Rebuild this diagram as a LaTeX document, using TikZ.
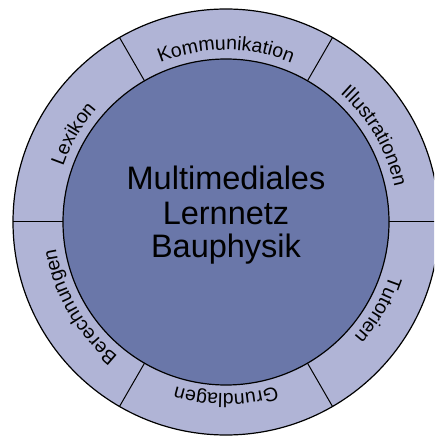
\documentclass[tikz,border=0pt]{standalone}
\usepackage{fontspec}
\setmainfont{Liberation Sans}
\usetikzlibrary{decorations.text}

\definecolor{ringfill}{RGB}{176,180,214}
\definecolor{corefill}{RGB}{106,119,169}

\newcommand{\ringfont}{\fontsize{19.5}{20}\selectfont}
\newcommand{\corefont}{\fontsize{32.5}{33.5}\selectfont}

\tikzset{
  ringline/.style={draw=black, line width=1.2pt},
  divider/.style={draw=black, line width=1pt},
  corelabel/.style={anchor=base, inner sep=0pt, font=\corefont, text=black},
}

% label set along a clockwise arc centred on the given angle
\newcommand{\ringlabel}[2]{%
  \path[decorate, decoration={text along path, text align=center,
        text={|\ringfont|#2}}]
    ({#1+40}:172) arc[start angle={#1+40}, end angle={#1-40}, radius=172];
}

\begin{document}
\begin{tikzpicture}[x=1pt, y=1pt]
  \useasboundingbox (-226,-214) rectangle (208,222);
  \clip (-226,-214) rectangle (208,222);

  % outer ring and its six sectors
  \fill[ringfill] (0,0) circle[radius=213];
  \draw[ringline] (0,0) circle[radius=213];
  \foreach \a in {0,60,...,300}
    \draw[divider] (\a:163) -- (\a:213);

  % central disc
  \fill[corefill] (0,0) circle[radius=163];
  \draw[ringline] (0,0) circle[radius=163];

  % title in the centre
  \node[corelabel] (title1) at (0,32) {Multimediales};
  \node[corelabel] (title2) at (0,-2) {Lernnetz};
  \node[corelabel] (title3) at (0,-35) {Bauphysik};

  % sector labels
  \ringlabel{90}{Kommunikation}
  \ringlabel{30}{Illustrationen}
  \ringlabel{-30}{Tutorien}
  \ringlabel{-90}{Grundlagen}
  \ringlabel{-150}{Berechnungen}
  \ringlabel{150}{Lexikon}
\end{tikzpicture}
\end{document}
